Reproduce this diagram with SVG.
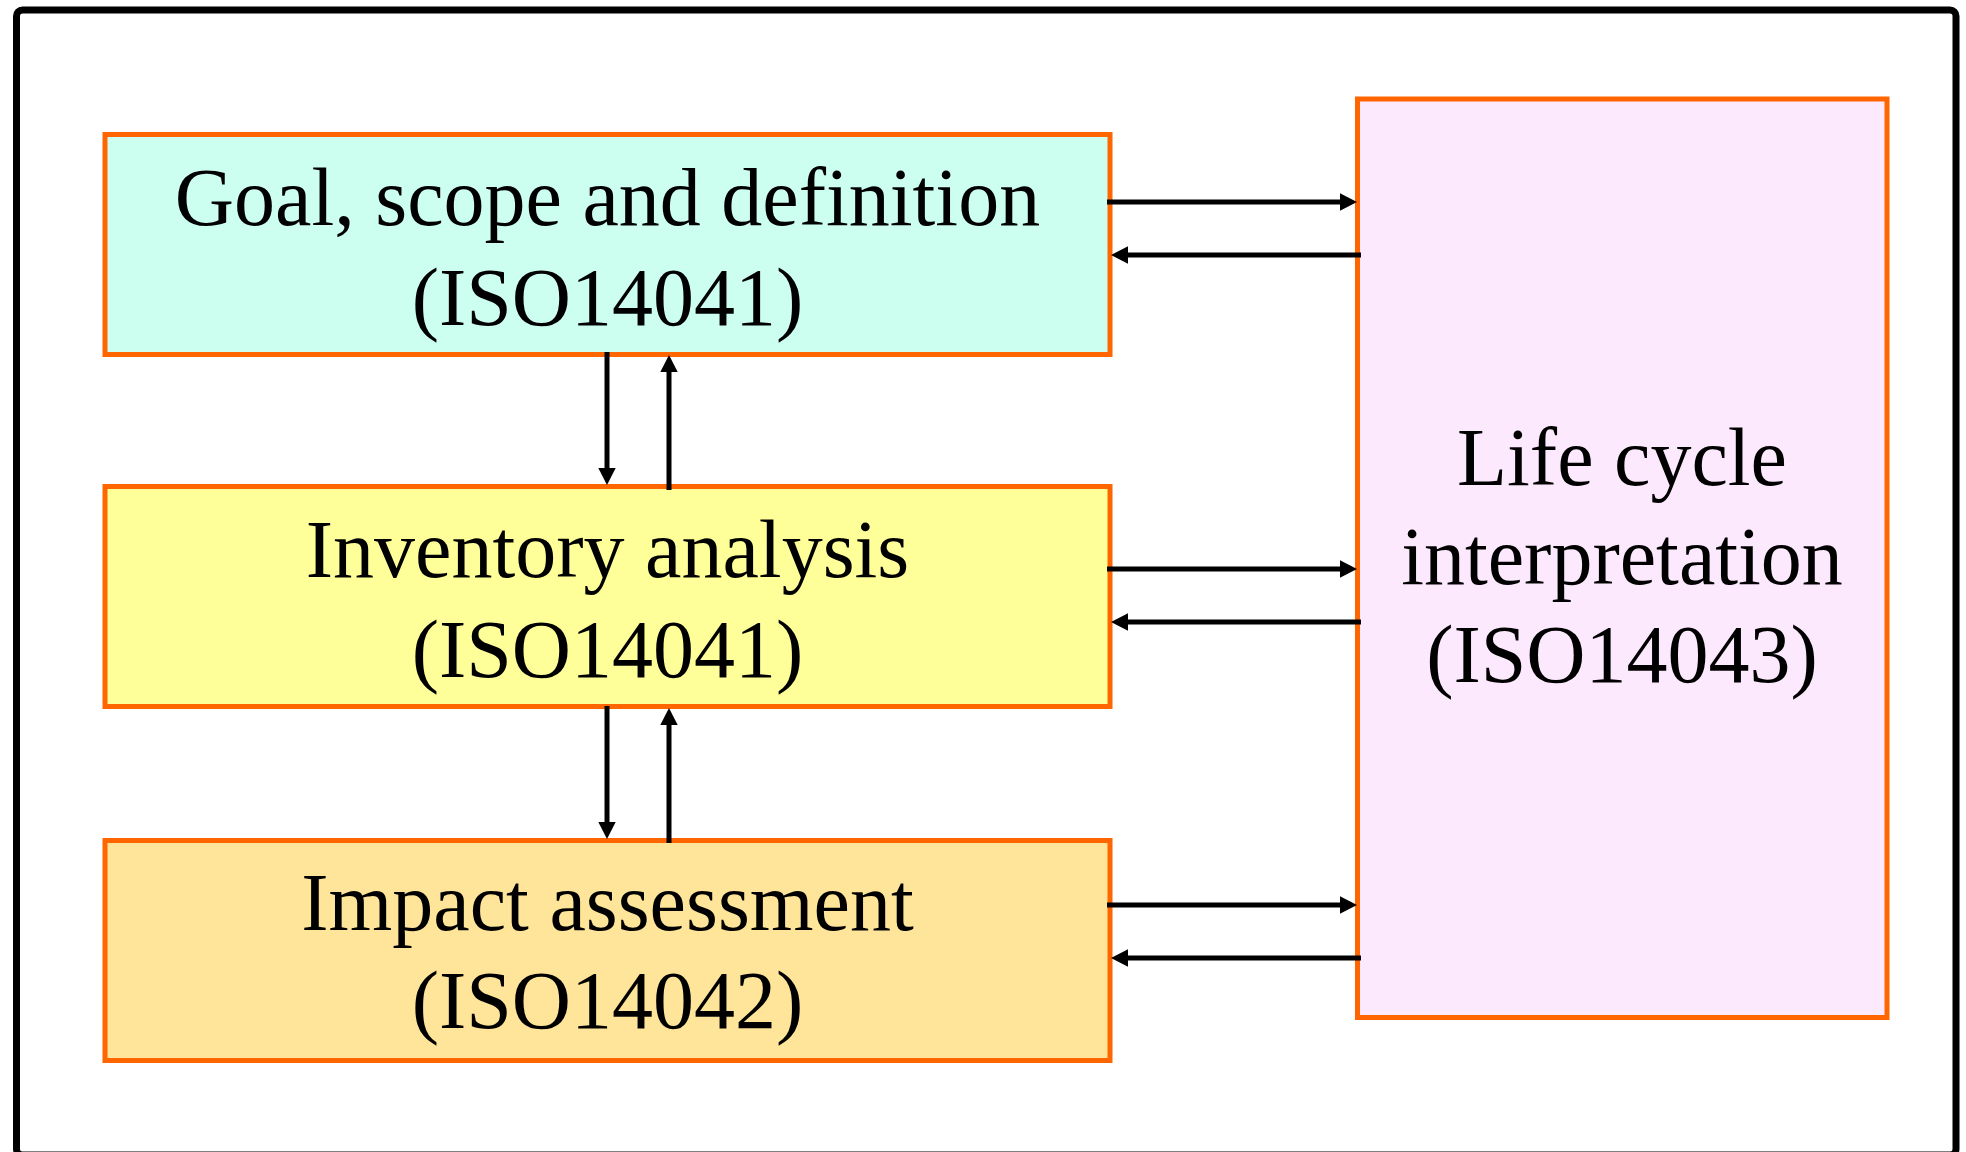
<svg xmlns="http://www.w3.org/2000/svg" width="1966" height="1152" viewBox="0 0 1966 1152">
<style>
.box{stroke:#FF6600;stroke-width:5}
.lbl{font-family:"Liberation Serif","Times New Roman",serif;font-size:82px;fill:#000;text-anchor:middle}
.arr{stroke:#000;stroke-width:5;fill:none;marker-end:url(#ah)}
</style>
<defs>
<marker id="ah" markerUnits="userSpaceOnUse" markerWidth="18" markerHeight="18" refX="7" refY="8.7" orient="auto" overflow="visible">
<path d="M0,0 L17,8.7 L0,17.4 Z" fill="#000"/>
</marker>
</defs>
<rect width="1966" height="1152" fill="#fff"/>
<rect id="frame" x="16.5" y="10" width="1939.5" height="1145" rx="6" fill="none" stroke="#000" stroke-width="7"/>
<g id="goal">
<rect class="box" x="105" y="134.5" width="1005" height="220" fill="#CCFFF0"/>
<text class="lbl" x="607.5" y="225">Goal, scope and definition</text>
<text class="lbl" x="607.5" y="325">(ISO14041)</text>
</g>
<g id="inventory">
<rect class="box" x="105" y="486.5" width="1005" height="220" fill="#FFFF99"/>
<text class="lbl" x="607.5" y="577">Inventory analysis</text>
<text class="lbl" x="607.5" y="677">(ISO14041)</text>
</g>
<g id="impact">
<rect class="box" x="105" y="840.5" width="1005" height="220" fill="#FFE599"/>
<text class="lbl" x="607.5" y="930">Impact assessment</text>
<text class="lbl" x="607.5" y="1028">(ISO14042)</text>
</g>
<g id="interpretation">
<rect class="box" x="1357.5" y="99" width="529.5" height="918.5" fill="#FDE9FD"/>
<text class="lbl" x="1622" y="485">Life cycle</text>
<text class="lbl" x="1622" y="584">interpretation</text>
<text class="lbl" x="1622" y="682">(ISO14043)</text>
</g>
<g id="connectors">
<line class="arr" x1="1107" y1="202" x2="1347" y2="202"/>
<line class="arr" x1="1361" y1="255" x2="1121" y2="255"/>
<line class="arr" x1="1107" y1="569" x2="1347" y2="569"/>
<line class="arr" x1="1361" y1="622" x2="1121" y2="622"/>
<line class="arr" x1="1107" y1="905" x2="1347" y2="905"/>
<line class="arr" x1="1361" y1="958" x2="1121" y2="958"/>
<line class="arr" x1="607" y1="352" x2="607" y2="475"/>
<line class="arr" x1="669" y1="490" x2="669" y2="365"/>
<line class="arr" x1="607" y1="706" x2="607" y2="829"/>
<line class="arr" x1="669" y1="843" x2="669" y2="718"/>
</g>
</svg>
